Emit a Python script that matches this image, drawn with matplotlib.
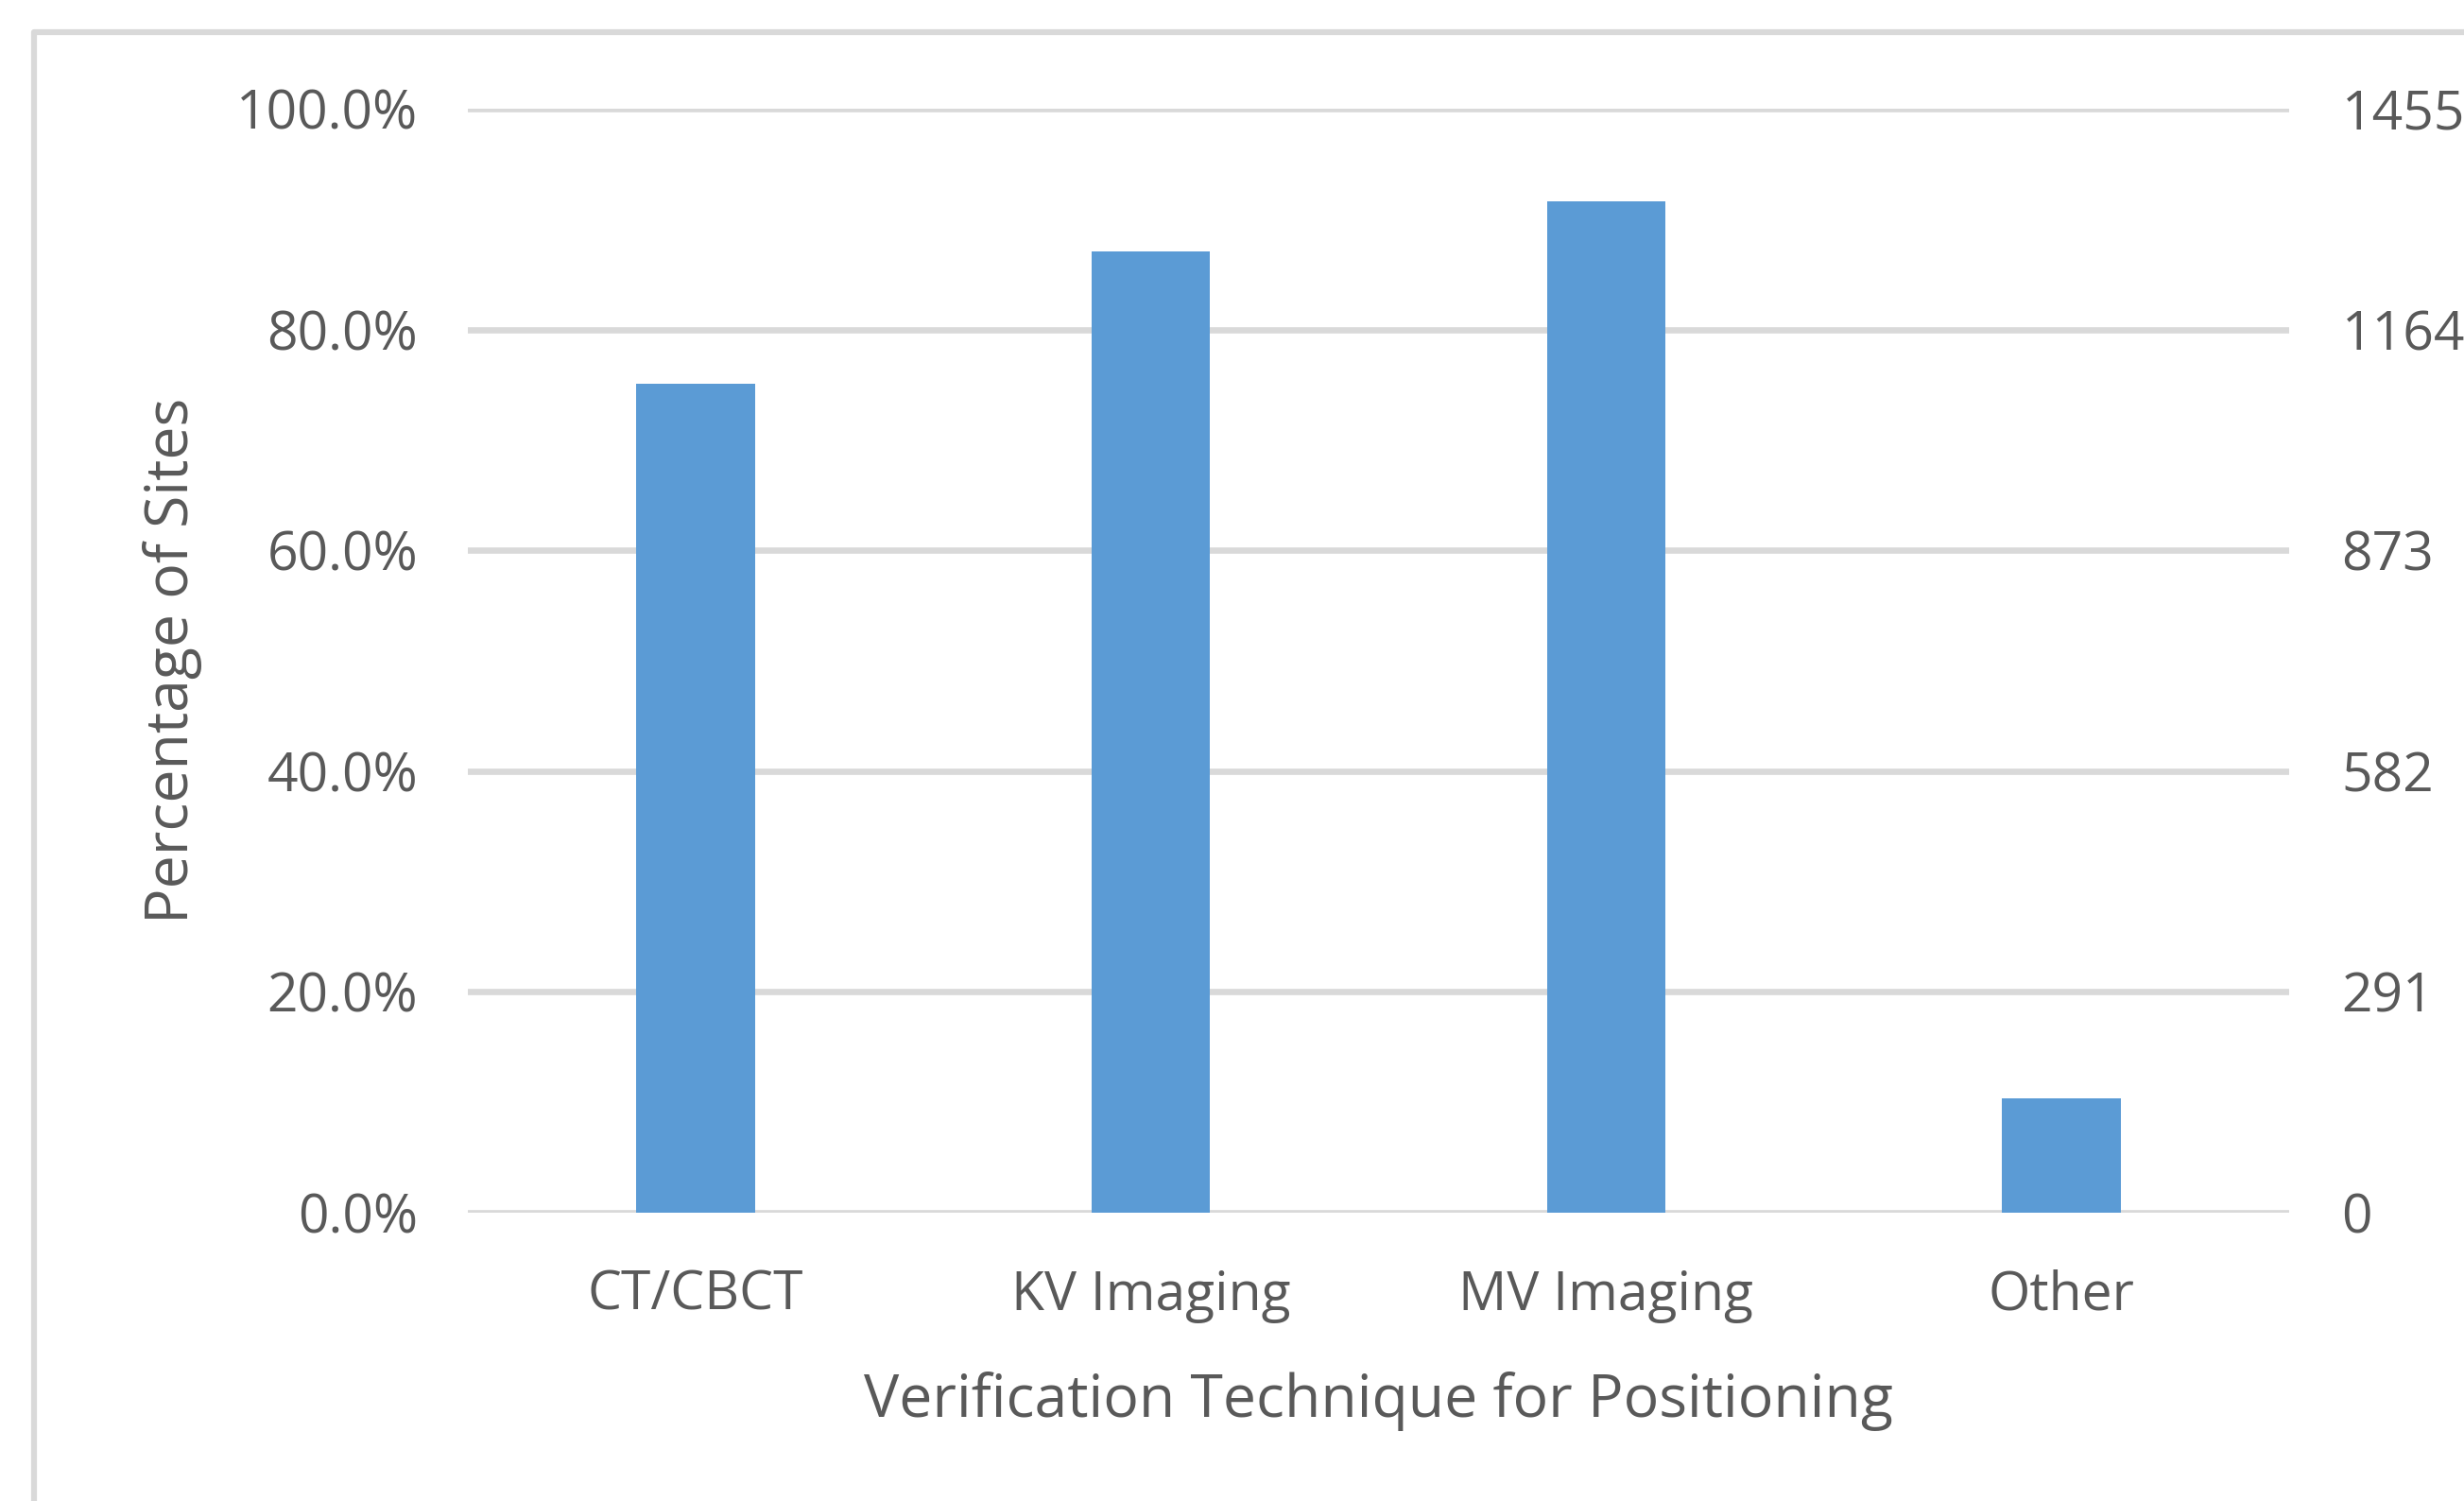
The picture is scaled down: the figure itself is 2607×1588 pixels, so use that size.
import matplotlib
matplotlib.use("Agg")
import matplotlib.pyplot as plt
from matplotlib.lines import Line2D
from matplotlib.ticker import FuncFormatter

categories = ["CT/CBCT", "KV Imaging", "MV Imaging", "Other"]
percent = [75.1, 87.1, 91.6, 10.4]
left_ticks = [0, 20, 40, 60, 80, 100]
right_ticks = [0, 291, 582, 873, 1164, 1455]

plt.rcParams['font.family'] = ['Open Sans', 'DejaVu Sans']
txt = '#595959'
grid = '#d9d9d9'

W, H = 2607, 1588
fig = plt.figure(figsize=(W / 100, H / 100), dpi=100)
ax = fig.add_axes([495 / W, 1 - 1283 / H, (2422 - 495) / W, (1283 - 115) / H])

x = range(len(categories))
ax.bar(x, percent, width=0.26, color='#5B9BD5', zorder=3)
ax.set_xlim(-0.5, len(categories) - 0.5)
ax.set_ylim(0, 100)
ax.set_yticks(left_ticks)
ax.yaxis.set_major_formatter(FuncFormatter(lambda v, p: f"{v:.1f}%"))
ax.set_xticks(list(x))
ax.set_xticklabels(categories)
ax.grid(axis='y', color=grid, linewidth=4.8, zorder=0)
for s in ax.spines.values():
    s.set_visible(False)
ax.tick_params(axis='both', length=0, labelsize=41, labelcolor=txt)
ax.tick_params(axis='y', pad=38)
ax.tick_params(axis='x', pad=43)
ax.set_ylabel("Percentage of Sites", fontsize=45, color=txt, labelpad=26)
ax.set_xlabel("Verification Technique for Positioning", fontsize=45, color=txt, labelpad=37)

ax2 = ax.twinx()
ax2.set_ylim(0, 1455)
ax2.set_yticks(right_ticks)
ax2.set_yticklabels([str(t) for t in right_ticks])
for s in ax2.spines.values():
    s.set_visible(False)
ax2.tick_params(axis='y', length=0, labelsize=41, labelcolor=txt, pad=40)

# outer chart frame (cropped at right and bottom)
fig.add_artist(Line2D([36 / W, 36 / W, 1.0], [0.0, 1 - 34 / H, 1 - 34 / H],
                      transform=fig.transFigure, color=grid, linewidth=4.5))

fig.savefig("out.png", dpi=100, facecolor='white')
